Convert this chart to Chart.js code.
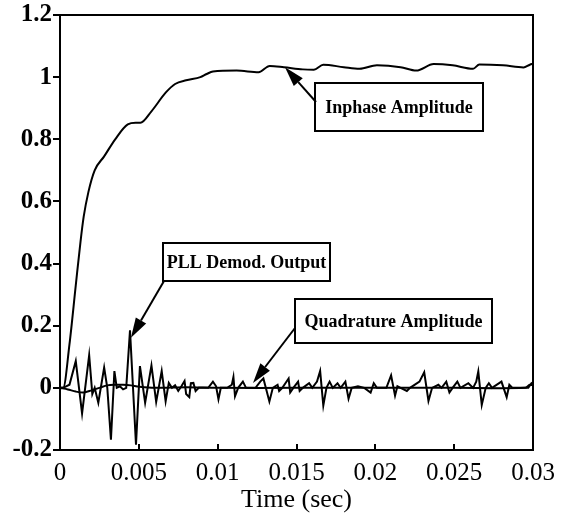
<!DOCTYPE html>
<html>
<head>
<meta charset="utf-8">
<script src="https://cdn.jsdelivr.net/npm/chart.js@4/dist/chart.umd.min.js"></script>
<style>
  html, body { margin: 0; padding: 0; background: #fff; }
  #wrap { width: 570px; height: 522px; position: relative; }
</style>
</head>
<body>
<div id="wrap"><canvas id="c" width="570" height="522"></canvas></div>
<script>
// Tick positions and labels
const xTicks = [0, 0.005, 0.01, 0.015, 0.02, 0.025, 0.03];
const xTickLabels = ['0', '0.005', '0.01', '0.015', '0.02', '0.025', '0.03'];
const yTicks = [-0.2, 0, 0.2, 0.4, 0.6, 0.8, 1, 1.2];
const yTickLabels = ['-0.2', '0', '0.2', '0.4', '0.6', '0.8', '1', '1.2'];

// Inphase amplitude (time in s, amplitude)
const inphaseTime = [0, 0.0002, 0.0006, 0.001, 0.0013, 0.0015, 0.0018, 0.0022, 0.0028, 0.0035,
  0.0043, 0.0048, 0.0051, 0.0058, 0.0067, 0.0073, 0.008, 0.0089, 0.0093, 0.0097,
  0.0112, 0.0126, 0.0133, 0.0142, 0.0154, 0.0161, 0.0167, 0.018, 0.019, 0.0201,
  0.0216, 0.0226, 0.0237, 0.0249, 0.0262, 0.0266, 0.0281, 0.0294, 0.0298, 0.03];
const inphaseValue = [0, 0.0, 0.14, 0.33, 0.47, 0.55, 0.63, 0.70, 0.745, 0.80,
  0.848, 0.853, 0.853, 0.89, 0.95, 0.978, 0.99, 1.0, 1.01, 1.018,
  1.021, 1.016, 1.036, 1.032, 1.025, 1.024, 1.04, 1.032, 1.027, 1.038,
  1.032, 1.021, 1.042, 1.038, 1.027, 1.041, 1.038, 1.031, 1.04, 1.043];

// Quadrature amplitude
const quadTime = [0, 0.0005, 0.001, 0.0015, 0.002, 0.0025, 0.003, 0.0035, 0.004, 0.0045,
  0.005, 0.006, 0.008, 0.01, 0.015, 0.02, 0.025, 0.0295, 0.0298, 0.03];
const quadValue = [0, -0.005, -0.012, -0.015, -0.008, 0.0, 0.008, 0.01, 0.01, 0.008,
  0.004, 0.0, 0.002, 0.0, 0.0, 0.0, 0.0, 0.0, 0.01, 0.008];

// PLL demodulator output
const pllTime = [0, 0.0002, 0.0006, 0.001, 0.0014, 0.00185, 0.00205, 0.0022, 0.00243, 0.0028,
  0.003, 0.00323, 0.00345, 0.0036, 0.0038, 0.004, 0.0042, 0.00444, 0.00482, 0.00507,
  0.0054, 0.0058, 0.0061, 0.00645, 0.0067, 0.0069, 0.0071, 0.0073, 0.0075, 0.0077,
  0.0079, 0.008, 0.0082, 0.0083, 0.00846, 0.0086, 0.0088, 0.0094, 0.0097, 0.0099,
  0.01005, 0.0102, 0.0106, 0.0109, 0.011, 0.0111, 0.0113, 0.0116, 0.0118, 0.0124,
  0.0127, 0.0129, 0.01328, 0.0135, 0.0138, 0.0139, 0.0141, 0.0145, 0.0146, 0.0148,
  0.0151, 0.0152, 0.0154, 0.0158, 0.016, 0.0163, 0.0165, 0.0167, 0.0169, 0.0171,
  0.0173, 0.0176, 0.0178, 0.0181, 0.0183, 0.0185, 0.0189, 0.0193, 0.0197, 0.0199,
  0.0201, 0.0207, 0.021, 0.02125, 0.0214, 0.0216, 0.022, 0.0222, 0.0228, 0.0231,
  0.02337, 0.0236, 0.024, 0.0242, 0.0245, 0.0247, 0.0249, 0.0252, 0.0254, 0.0259,
  0.0262, 0.0264, 0.02653, 0.02675, 0.027, 0.0272, 0.0274, 0.028, 0.02833, 0.0285,
  0.0287, 0.0297, 0.0299, 0.03];
const pllValue = [0, 0, 0.01, 0.086, -0.082, 0.105, -0.02, 0.0, -0.048, 0.065,
  0.0, -0.167, 0.054, 0.0, 0.005, -0.005, 0.0, 0.185, -0.183, 0.07,
  -0.048, 0.072, -0.045, 0.054, -0.043, 0.016, 0.0, 0.008, -0.01, 0.005,
  0.022, -0.02, -0.03, 0.015, 0.016, -0.01, 0.0, 0.0, 0.02, 0.005,
  -0.037, 0.0, 0.0, 0.01, 0.035, -0.027, 0.0, 0.02, 0.0, 0.0,
  0.02, 0.03, -0.044, 0.0, 0.01, -0.01, 0.0, 0.03, -0.015, 0.0,
  0.02, -0.01, 0.0, 0.015, 0.0, 0.02, 0.054, -0.057, 0.0, 0.02,
  0.0, 0.015, 0.0, 0.02, -0.035, 0.0, 0.005, 0.0, -0.015, 0.015,
  0.0, 0.0, 0.04, -0.025, 0.005, 0.0, -0.01, 0.0, 0.02, 0.05,
  -0.042, 0.0, 0.01, 0.0, 0.02, -0.015, 0.0, 0.02, 0.0, 0.015,
  0.0, 0.02, 0.053, -0.055, 0.0, 0.015, 0.0, 0.02, -0.03, 0.01,
  0.0, 0.0, 0.015, 0.01];

const zip = (xs, ys) => xs.map((x, i) => ({ x: x, y: ys[i] }));

// Callout boxes: text, box rectangle (px), arrow start (px), arrow tip (data)
const callouts = [
  { text: 'Inphase Amplitude', box: [315, 83, 483, 131], from: [316, 102], tip: [0.01427, 1.032] },
  { text: 'PLL Demod. Output', box: [163, 243, 330, 281], from: [164, 281], tip: [0.0045, 0.161] },
  { text: 'Quadrature Amplitude', box: [295, 299, 492, 343], from: [295, 328], tip: [0.01224, 0.016] }
];

const SERIF = '"Liberation Serif", "Times New Roman", serif';

const framePlugin = {
  id: 'frame',
  afterDatasetsDraw(chart) {
    const ctx = chart.ctx;
    const a = chart.chartArea;
    const xs = chart.scales.x, ys = chart.scales.y;
    ctx.save();
    ctx.strokeStyle = '#000';
    ctx.lineWidth = 2;
    ctx.strokeRect(a.left, a.top, a.right - a.left, a.bottom - a.top);
    // y ticks point outward, x ticks point inward
    ctx.beginPath();
    yTicks.forEach(v => {
      const y = Math.round(ys.getPixelForValue(v));
      ctx.moveTo(a.left - 7, y);
      ctx.lineTo(a.left, y);
    });
    xTicks.forEach(v => {
      const x = Math.round(xs.getPixelForValue(v));
      ctx.moveTo(x, a.bottom);
      ctx.lineTo(x, a.bottom - 6);
    });
    ctx.stroke();

    // callouts
    callouts.forEach(c => {
      const [x0, y0, x1, y1] = c.box;
      ctx.fillStyle = '#fff';
      ctx.fillRect(x0, y0, x1 - x0, y1 - y0);
      ctx.lineWidth = 2;
      ctx.strokeRect(x0, y0, x1 - x0, y1 - y0);
      ctx.fillStyle = '#000';
      ctx.font = 'bold 18px ' + SERIF;
      ctx.textAlign = 'center';
      ctx.textBaseline = 'middle';
      ctx.fillText(c.text, (x0 + x1) / 2, (y0 + y1) / 2 + 1);

      const tx = xs.getPixelForValue(c.tip[0]);
      const ty = ys.getPixelForValue(c.tip[1]);
      const [fx, fy] = c.from;
      const ang = Math.atan2(ty - fy, tx - fx);
      const headLen = 20, headHalf = 6;
      const bx = tx - headLen * Math.cos(ang), by = ty - headLen * Math.sin(ang);
      ctx.beginPath();
      ctx.moveTo(fx, fy);
      ctx.lineTo(bx, by);
      ctx.lineWidth = 2;
      ctx.stroke();
      ctx.beginPath();
      ctx.moveTo(tx, ty);
      ctx.lineTo(bx + headHalf * Math.sin(ang), by - headHalf * Math.cos(ang));
      ctx.lineTo(bx - headHalf * Math.sin(ang), by + headHalf * Math.cos(ang));
      ctx.closePath();
      ctx.fill();
    });
    ctx.restore();
  }
};

const lineStyle = { borderColor: '#000', borderWidth: 2, pointRadius: 0, fill: false };

new Chart(document.getElementById('c'), {
  type: 'line',
  data: {
    datasets: [
      Object.assign({ label: 'Quadrature Amplitude', data: zip(quadTime, quadValue), tension: 0.3 }, lineStyle),
      Object.assign({ label: 'PLL Demod. Output', data: zip(pllTime, pllValue), tension: 0 }, lineStyle),
      Object.assign({ label: 'Inphase Amplitude', data: zip(inphaseTime, inphaseValue), cubicInterpolationMode: 'monotone', borderWidth: 2.4 }, lineStyle)
    ]
  },
  options: {
    responsive: false,
    animation: false,
    events: [],
    layout: { padding: { top: 2, right: 37, left: 0, bottom: 0 } },
    plugins: { legend: { display: false }, tooltip: { enabled: false } },
    scales: {
      x: {
        type: 'linear', min: 0, max: 0.03,
        afterBuildTicks: s => { s.ticks = xTicks.map(v => ({ value: v })); },
        afterFit: s => { s.height = 72; },
        grid: { display: false },
        border: { display: false },
        ticks: {
          color: '#000', padding: 0, maxRotation: 0, autoSkip: false,
          font: { family: SERIF, size: 25 },
          callback: (v, i) => xTickLabels[i]
        },
        title: {
          display: true, text: 'Time (sec)', color: '#000',
          font: { family: SERIF, size: 26 }, padding: { top: 0, bottom: 6 }
        }
      },
      y: {
        type: 'linear', min: -0.2, max: 1.2,
        afterBuildTicks: s => { s.ticks = yTicks.map(v => ({ value: v })); },
        afterFit: s => { s.width = 60; },
        grid: { display: false },
        border: { display: false },
        ticks: {
          color: '#000', padding: 0, autoSkip: false,
          font: { family: SERIF, size: 25, weight: 'bold' },
          callback: (v, i) => yTickLabels[i]
        }
      }
    }
  },
  plugins: [framePlugin]
});
</script>
</body>
</html>
